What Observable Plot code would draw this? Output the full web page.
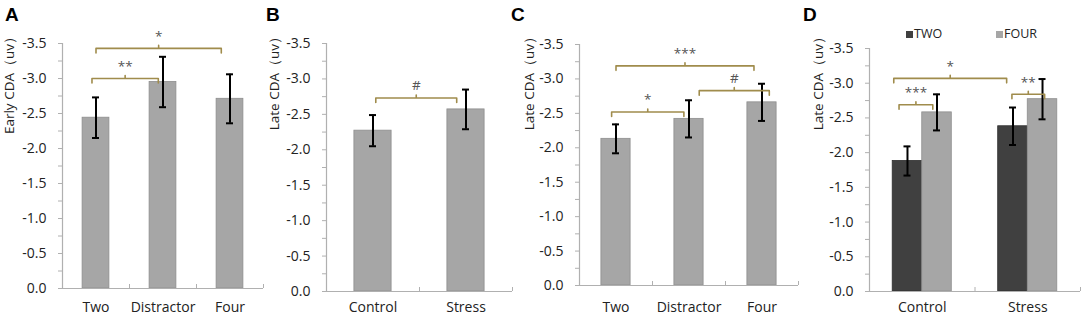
<!DOCTYPE html>
<html><head><meta charset="utf-8">
<script src="https://cdn.jsdelivr.net/npm/d3@7"></script>
<script src="https://cdn.jsdelivr.net/npm/@observablehq/plot@0.6"></script>
<style>
body{margin:0;background:#fff;}
#wrap{position:relative;width:1084px;height:319px;overflow:hidden;font-family:"Open Sans",sans-serif;background:#fff;}
.pn{position:absolute;top:0;}
.letter{position:absolute;top:5px;font:bold 19px "Liberation Sans",Arial,sans-serif;line-height:19px;color:#000;}
.ytitle{position:absolute;top:30px;writing-mode:vertical-rl;text-orientation:sideways;transform:rotate(180deg);font-size:13.5px;line-height:14px;white-space:nowrap;color:#222;}
.legend{position:absolute;top:28px;font-size:12.5px;line-height:12px;color:#222;white-space:nowrap;}
.sw{display:inline-block;width:7px;height:7px;margin-right:1px;vertical-align:0px;}
</style></head><body><div id="wrap"></div><script>
// ---------- data ----------
const earlyCategories = ["Two", "Distractor", "Four"];
const earlyMeans = [-2.44, -2.95, -2.71];
const earlyErrors = [0.29, 0.36, 0.35];

const stressCategories = ["Control", "Stress"];
const stressMeans = [-2.27, -2.57];
const stressErrors = [0.22, 0.28];

const lateCategories = ["Two", "Distractor", "Four"];
const lateMeans = [-2.13, -2.42, -2.66];
const lateErrors = [0.21, 0.27, 0.27];

const groupCategories = ["Control", "Stress"];
const loadSeries = ["TWO", "FOUR"];
const twoMeans = [-1.88, -2.38];
const twoErrors = [0.21, 0.27];
const fourMeans = [-2.58, -2.77];
const fourErrors = [0.26, 0.29];

const yTickValues = [0, -0.5, -1, -1.5, -2, -2.5, -3, -3.5];
const yTitles = ["Early CDA（uv）", "Late CDA（uv）", "Late CDA（uv）", "Late CDA（uv）"];
const panelLetters = ["A", "B", "C", "D"];

// significance brackets (positions in category units, level in data units)
const bracketsA = [
  {x1: 0.0, x2: 1.87, y: -3.43, label: "*"},
  {x1: -0.06, x2: 0.93, y: -3.0, label: "**"}
];
const bracketsB = [
  {x1: 0.03, x2: 0.90, y: -2.73, label: "#"}
];
const bracketsC = [
  {x1: 0.0, x2: 1.89, y: -3.19, label: "***"},
  {x1: -0.06, x2: 0.93, y: -2.52, label: "*"},
  {x1: 1.14, x2: 2.10, y: -2.83, label: "#"}
];
const bracketsD = [
  {x1: -0.27, x2: 0.80, y: -3.07, label: "*"},
  {x1: -0.22, x2: 0.10, y: -2.69, label: "***"},
  {x1: 0.85, x2: 1.16, y: -2.84, label: "**"}
];

// ---------- styling ----------
const lightBar = "#a6a6a6", darkBar = "#404040";
const axisColor = "#b0b0b0", textColor = "#222";
const bracketColor = "#a08c4c";

function panel(cfg) {
  const {left, width, height = 319, mL, mR, mT, mB, labelPad, categories, rows, brackets, seriesColor} = cfg;
  const n = categories.length;
  const frameW = width - mL - mR, frameH = height - mT - mB;
  const step = frameW / n;
  const upx = 3.5 / frameH; // data units per pixel (y)
  const cap = 3.5 / step;
  const drop = 4.5 * upx, notch = 3 * upx, tickLen = 4 * upx;
  const pts = [];
  brackets.forEach((b, k) => {
    const m = (b.x1 + b.x2) / 2;
    [[b.x1, b.y + drop], [b.x1, b.y], [m, b.y], [m, b.y - notch], [m, b.y], [b.x2, b.y], [b.x2, b.y + drop]]
      .forEach(([x, y]) => pts.push({id: k, x, y}));
  });
  const minor = yTickValues.slice(1).map(v => v + 0.25);
  const boundaries = categories.map((c, i) => i + 0.5);
  const plot = Plot.plot({
    width, height,
    marginLeft: mL, marginRight: mR, marginTop: mT, marginBottom: mB,
    x: {type: "linear", domain: [-0.5, n - 0.5]},
    y: {type: "linear", domain: [0, -3.5]},
    color: seriesColor ? {domain: loadSeries, range: [darkBar, lightBar]} : undefined,
    style: {background: "transparent", overflow: "visible", fontFamily: "Open Sans, sans-serif", fontSize: "14px", color: textColor},
    marks: [
      Plot.rectY(rows, {x1: "x1", x2: "x2", y1: 0, y2: "mean",
        fill: seriesColor ? "series" : lightBar,
        stroke: d => d.series === "TWO" ? "#2e2e2e" : "#8e8e8e", strokeWidth: 0.8}),
      Plot.ruleX(rows, {x: "pos", y1: d => d.mean + d.err, y2: d => d.mean - d.err, stroke: "#000", strokeWidth: 2}),
      Plot.ruleY(rows, {y: d => d.mean - d.err, x1: d => d.pos - cap, x2: d => d.pos + cap, stroke: "#000", strokeWidth: 2}),
      Plot.ruleY(rows, {y: d => d.mean + d.err, x1: d => d.pos - cap, x2: d => d.pos + cap, stroke: "#000", strokeWidth: 2}),
      Plot.line(pts, {x: "x", y: "y", z: "id", stroke: bracketColor, strokeWidth: 1.6}),
      Plot.text(brackets, {x: d => (d.x1 + d.x2) / 2, y: "y", text: "label", dy: -12, fill: "#555", fontSize: 13.5}),
      Plot.ruleX([-0.5], {stroke: axisColor, strokeWidth: 1.2}),
      Plot.ruleY([0], {stroke: axisColor, strokeWidth: 1.2}),
      Plot.ruleX(boundaries, {x: d => d, y1: 0, y2: -tickLen, stroke: axisColor, strokeWidth: 1}),
      Plot.axisY(yTickValues, {tickFormat: d => d.toFixed(1), tickSize: 4, tickPadding: 12, stroke: axisColor, fill: textColor, fontSize: 14, label: null}),
      Plot.axisY(minor, {tickFormat: () => "", tickSize: 4, stroke: axisColor, label: null}),
      Plot.axisX(categories.map((c, i) => i), {tickFormat: i => categories[i], tickSize: 0, tickPadding: labelPad, fill: textColor, fontSize: 14, label: null})
    ]
  });
  plot.classList.add("pn");
  plot.style.left = left + "px";
  return plot;
}

function simpleRows(categories, means, errors) {
  return categories.map((c, i) => ({cat: c, pos: i, x1: i - 0.2, x2: i + 0.2, mean: means[i], err: errors[i]}));
}

const seriesOffset = {TWO: -0.14, FOUR: 0.14};
const groupedRows = [];
groupCategories.forEach((g, i) => {
  [["TWO", twoMeans, twoErrors], ["FOUR", fourMeans, fourErrors]].forEach(([s, means, errs]) => {
    const pos = i + seriesOffset[s];
    groupedRows.push({cat: g, series: s, pos, x1: pos - 0.14, x2: pos + 0.14, mean: means[i], err: errs[i]});
  });
});

const wrap = document.getElementById("wrap");
wrap.append(panel({left: 0, width: 270, mL: 62, mR: 7, mT: 43, mB: 31, labelPad: 14,
  categories: earlyCategories, rows: simpleRows(earlyCategories, earlyMeans, earlyErrors), brackets: bracketsA}));
wrap.append(panel({left: 270, width: 250, mL: 56, mR: 8, mT: 43, mB: 28, labelPad: 11,
  categories: stressCategories, rows: simpleRows(stressCategories, stressMeans, stressErrors), brackets: bracketsB}));
wrap.append(panel({left: 520, width: 290, mL: 59, mR: 12, mT: 44, mB: 34, labelPad: 17,
  categories: lateCategories, rows: simpleRows(lateCategories, lateMeans, lateErrors), brackets: bracketsC}));
wrap.append(panel({left: 810, width: 274, mL: 59, mR: 4, mT: 48, mB: 28, labelPad: 11,
  categories: groupCategories, rows: groupedRows, brackets: bracketsD, seriesColor: true}));

// panel letters and y titles
const letterX = [5, 266, 511, 803];
const titleX = [9, 274, 529, 818];
panelLetters.forEach((L, i) => {
  const d = document.createElement("div");
  d.className = "letter"; d.textContent = L; d.style.left = letterX[i] + "px";
  wrap.append(d);
  const t = document.createElement("div");
  t.className = "ytitle"; t.textContent = yTitles[i]; t.style.left = (titleX[i] - 7) + "px";
  wrap.append(t);
});

// legend for panel D
const legendX = [906, 996];
loadSeries.forEach((s, i) => {
  const d = document.createElement("div");
  d.className = "legend"; d.style.left = legendX[i] + "px";
  const sw = document.createElement("span");
  sw.className = "sw"; sw.style.background = i === 0 ? darkBar : lightBar;
  d.append(sw, document.createTextNode(s));
  wrap.append(d);
});
</script></body></html>
